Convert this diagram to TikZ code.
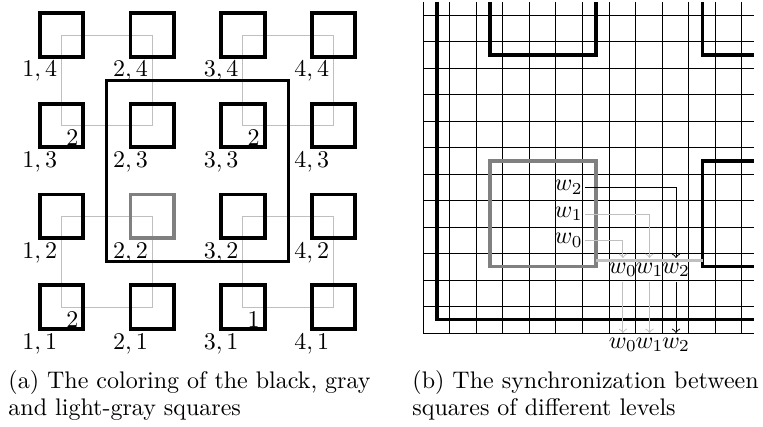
\documentclass[tikz,border=0pt]{standalone}
\usetikzlibrary{backgrounds}
\begin{document}
\begin{tikzpicture}[x=0.41667pt,y=-0.41667pt,
  blacksq/.style={draw=black,line width=1.6pt,minimum size=18.125pt,inner sep=0pt,outer sep=0pt},
  bigsq/.style={draw=black,line width=1.2pt},
  lgline/.style={draw=lightgray,line width=0.4pt},
  lbl/.style={inner sep=2pt,outer sep=0pt},
  gridline/.style={draw=black,line width=0.4pt},
  thickblk/.style={draw=black,line width=1.6pt},
  thickgray/.style={draw=gray,line width=1.6pt},
  lgband/.style={draw=lightgray,line width=1.2pt},
  wlbl/.style={inner sep=2pt,outer sep=0pt},
  blkarrow/.style={draw=black,line width=0.4pt,->},
  lgarrow/.style={draw=lightgray,line width=0.4pt,->},
  capline/.style={anchor=base west,inner sep=0pt}]
\useasboundingbox (0,0) rectangle (763,427);
% ---------------- (a) ----------------
\foreach \i in {1,...,4} {
  \foreach \j in {1,...,4} {
    \ifnum\i\j=22 \def\sqcol{gray}\else\def\sqcol{black}\fi
    \node[blacksq,draw=\sqcol] (s\i\j) at ({61.5+(\i-1)*90.67},{307-(\j-1)*90.67}) {};
    \node[lbl,anchor=north] (l\i\j) at (s\i\j.south west) {$\i,\j$};
  }
}
\begin{scope}[on background layer]
  \draw[lgline] (s11.center) rectangle (s22.center);
  \draw[lgline] (s13.center) rectangle (s24.center);
  \draw[lgline] (s31.center) rectangle (s42.center);
  \draw[lgline] (s33.center) rectangle (s44.center);
\end{scope}
\node[lbl,anchor=north west] (c11) at (s11.center) {$2$};
\node[lbl,anchor=north west] (c13) at (s13.center) {$2$};
\node[lbl,anchor=north west] (c31) at (s31.center) {$1$};
\node[lbl,anchor=north west] (c33) at (s33.center) {$2$};
\draw[bigsq] (106.83,80.33) rectangle (288.17,261.67);
% ---------------- (b) ----------------
\foreach \k in {0,...,12} {
  \draw[gridline] ({423+\k*26.58},2) -- ({423+\k*26.58},333);
  \draw[gridline] (423,{333-\k*26.5}) -- (754,{333-\k*26.5});
}
\draw[thickblk] (437,2) -- (437,319.5) -- (754,319.5);
\draw[thickblk] (490,2) -- (490,55) -- (596,55) -- (596,2);
\draw[thickblk] (702.5,2) -- (702.5,55) -- (754,55);
\draw[thickblk] (754,161) -- (702.5,161) -- (702.5,266.5) -- (754,266.5);
\draw[thickgray] (490,161) rectangle (596,266.5);
\draw[lgband] (596,260.5) -- (702.5,260.5);
\node[wlbl,inner sep=1pt,anchor=east] (wa2) at (585,187.5) {$w_2$};
\node[wlbl,inner sep=1pt,anchor=east] (wa1) at (585,214) {$w_1$};
\node[wlbl,inner sep=1pt,anchor=east] (wa0) at (585,240.5) {$w_0$};
\node[wlbl,anchor=north] (wb0) at (622.9,258) {$w_0$};
\node[wlbl,anchor=north] (wb1) at (649.5,258) {$w_1$};
\node[wlbl,anchor=north] (wb2) at (676,258) {$w_2$};
\node[wlbl,anchor=north] (wc0) at (622.9,333) {$w_0$};
\node[wlbl,anchor=north] (wc1) at (649.5,333) {$w_1$};
\node[wlbl,anchor=north] (wc2) at (676,333) {$w_2$};
\draw[lgarrow] (wa0.east) -| (wb0.north);
\draw[lgarrow] (wa1.east) -| (wb1.north);
\draw[blkarrow] (wa2.east) -| (wb2.north);
\draw[lgarrow] (wb0.south) -- (wc0.north);
\draw[lgarrow] (wb1.south) -- (wc1.north);
\draw[blkarrow] (wb2.south) -- (wc2.north);
% ---------------- captions ----------------
\node[capline] (capa1) at (8,389) {(a) The coloring of the black, gray};
\node[capline] (capa2) at (8,416) {and light-gray squares};
\node[capline] (capb1) at (412,389) {(b) The synchronization between};
\node[capline] (capb2) at (412,416) {squares of different levels};
\end{tikzpicture}
\end{document}
